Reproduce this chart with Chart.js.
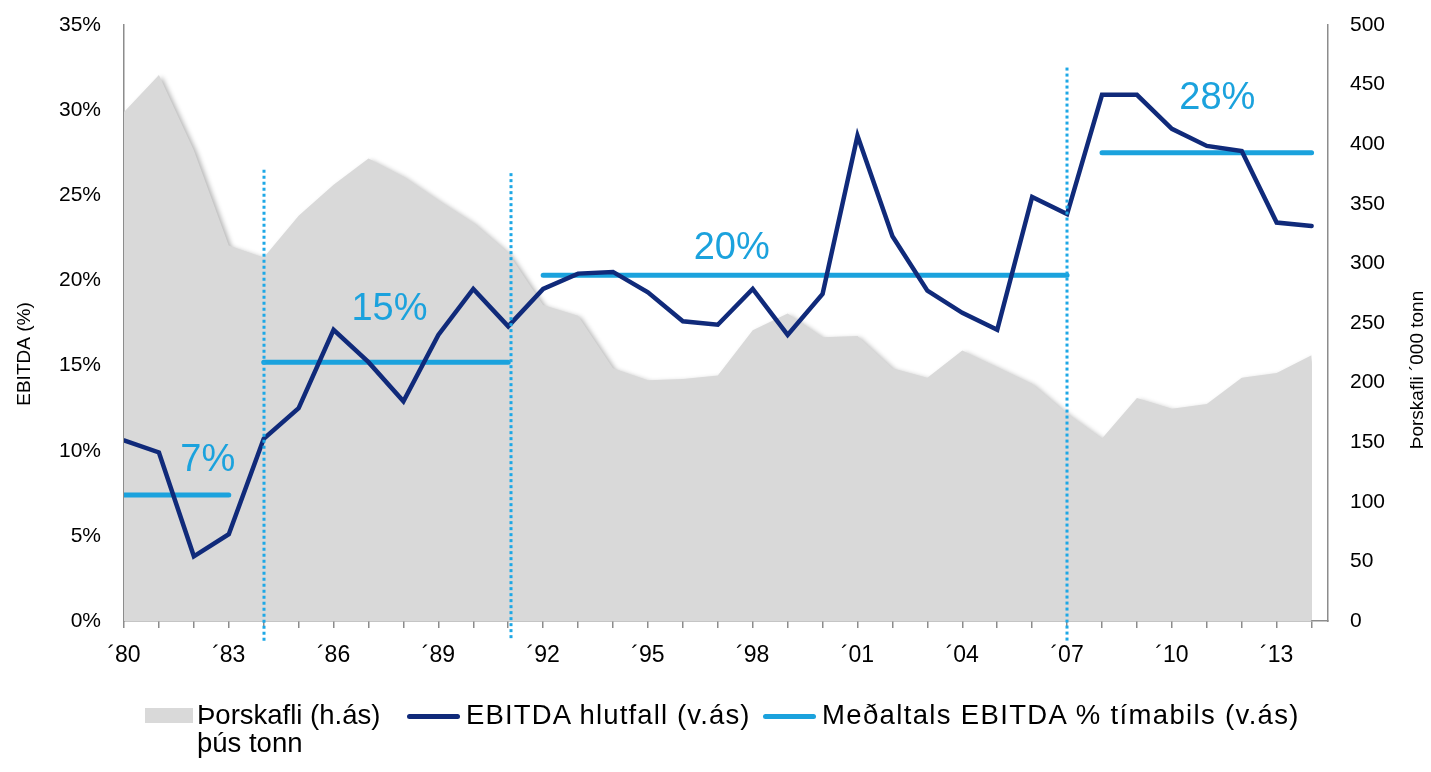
<!DOCTYPE html>
<html>
<head>
<meta charset="utf-8">
<script src="https://cdn.jsdelivr.net/npm/chart.js@4/dist/chart.umd.min.js"></script>
<style>
  html, body { margin: 0; padding: 0; background: #fff; }
  #wrap { position: relative; width: 1431px; height: 772px; }
  .item {
    position: absolute; top: 701px; display: flex; align-items: flex-start;
    font-family: "Liberation Sans", Arial, sans-serif; font-size: 27.5px; color: #000;
    white-space: nowrap;
  }
  .swatch-area { width: 48px; height: 15px; background: #d9d9d9; margin-top: 7px; margin-right: 4px; }
  .swatch-line { width: 53px; height: 5px; border-radius: 3px; margin-top: 13px; margin-right: 6px; }
  .txt { line-height: 28px; }
</style>
</head>
<body>
<div id="wrap">
  <canvas id="chart" width="1431" height="772"></canvas>
  <div class="item" style="left:145px;letter-spacing:0px"><div class="swatch-area"></div><div class="txt">Þorskafli (h.ás)<br>þús tonn</div></div>
  <div class="item" style="left:407px;letter-spacing:1.15px"><div class="swatch-line" style="background:#102a7a"></div><div class="txt">EBITDA hlutfall (v.ás)</div></div>
  <div class="item" style="left:763px;letter-spacing:1.35px"><div class="swatch-line" style="background:#1ba2dd"></div><div class="txt">Meðaltals EBITDA % tímabils (v.ás)</div></div>
</div>
<script>
const years = [1980, 1981, 1982, 1983, 1984, 1985, 1986, 1987, 1988, 1989,
               1990, 1991, 1992, 1993, 1994, 1995, 1996, 1997, 1998, 1999,
               2000, 2001, 2002, 2003, 2004, 2005, 2006, 2007, 2008, 2009,
               2010, 2011, 2012, 2013, 2014];

// EBITDA hlutfall (%)
const ebitda = [10.6, 9.9, 3.8, 5.1, 10.7, 12.5, 17.1, 15.2, 12.9, 16.8,
                19.5, 17.3, 19.5, 20.4, 20.5, 19.3, 17.6, 17.4, 19.5, 16.8,
                19.2, 28.5, 22.6, 19.4, 18.1, 17.1, 24.9, 23.9, 30.9, 30.9,
                28.9, 27.9, 27.6, 23.4, 23.2];

// Þorskafli, þús tonn
const codCatch = [427, 458, 395, 315, 305, 340, 366, 388, 373, 353,
                  334, 309, 265, 256, 212, 202, 203, 206, 244, 258,
                  238, 239, 212, 204, 227, 213, 199, 174, 153, 187,
                  178, 182, 204, 208, 223];

// Meðaltal EBITDA fyrir hvert tímabil
const avgStart = [1980, 1984, 1992, 2008];
const avgEnd = [1983, 1991, 2007, 2014];
const avgValue = [7.4, 15.2, 20.3, 27.5];
const avgLabels = ['7%', '15%', '20%', '28%'];

// skil milli tímabila
const dividers = [1984, 1991, 2007];

const leftTicks = [0, 5, 10, 15, 20, 25, 30, 35];
const rightTicks = [0, 50, 100, 150, 200, 250, 300, 350, 400, 450, 500];

const NAVY = '#102a7a';
const LIGHT = '#1ba2dd';
const FONT = '"Liberation Sans", Arial, sans-serif';

const avgPoints = [];
avgStart.forEach((s, i) => {
    avgPoints.push({ x: s, y: avgValue[i] });
    avgPoints.push({ x: avgEnd[i], y: avgValue[i] });
    avgPoints.push({ x: avgEnd[i] + 0.5, y: null });
});

const extras = {
    id: 'extras',
    beforeDatasetsDraw(chart) {
        // skuggi undir gráa svæðinu
        const ctx = chart.ctx;
        ctx.save();
        ctx.shadowColor = 'rgba(0,0,0,0.30)';
        ctx.shadowBlur = 5;
        ctx.shadowOffsetX = 3;
        ctx.shadowOffsetY = 2;
    },
    afterDatasetDraw(chart, args) {
        if (args.index === 0) chart.ctx.restore();
    },
    afterDatasetsDraw(chart) {
        const ctx = chart.ctx;
        const x = chart.scales.x, y = chart.scales.y;
        const tops = [26.5, 26.3, 32.5];
        ctx.save();
        ctx.strokeStyle = '#1ea8e6';
        ctx.lineWidth = 3;
        ctx.setLineDash([3, 3]);
        dividers.forEach((d, i) => {
            const px = Math.round(x.getPixelForValue(d)) + (i === 1 ? 3 : 0);
            ctx.beginPath();
            ctx.moveTo(px, y.getPixelForValue(tops[i]));
            ctx.lineTo(px, chart.chartArea.bottom + 20);
            ctx.stroke();
        });
        ctx.setLineDash([]);
        const pos = [[1982.4, 9.4], [1987.6, 18.3], [1997.4, 21.9], [2011.3, 30.7]];
        ctx.fillStyle = LIGHT;
        ctx.font = '38px ' + FONT;
        ctx.textAlign = 'center';
        ctx.textBaseline = 'middle';
        avgLabels.forEach((t, i) => {
            ctx.fillText(t, x.getPixelForValue(pos[i][0]), y.getPixelForValue(pos[i][1]));
        });
        ctx.restore();
    },
    afterDraw(chart) {
        const ctx = chart.ctx;
        const title = (text, cx, cy) => {
            ctx.save();
            ctx.fillStyle = '#000';
            ctx.font = '19px ' + FONT;
            ctx.textAlign = 'center';
            ctx.textBaseline = 'middle';
            ctx.translate(cx, cy);
            ctx.rotate(-Math.PI / 2);
            ctx.fillText(text, 0, 0);
            ctx.restore();
        };
        title('EBITDA (%)', 25, 354);
        title('Þorskafli ´000 tonn', 1418, 370);
    }
};

new Chart(document.getElementById('chart'), {
    type: 'line',
    data: {
        datasets: [
            {
                label: 'Þorskafli (h.ás) þús tonn',
                data: years.map((yr, i) => ({ x: yr, y: codCatch[i] })),
                yAxisID: 'y1',
                fill: 'origin',
                backgroundColor: '#d9d9d9',
                borderWidth: 0,
                pointRadius: 0,
                tension: 0,
                order: 3
            },
            {
                label: 'Meðaltals EBITDA % tímabils (v.ás)',
                data: avgPoints,
                yAxisID: 'y',
                borderColor: LIGHT,
                borderWidth: 5,
                borderCapStyle: 'round',
                pointRadius: 0,
                spanGaps: false,
                fill: false,
                order: 2
            },
            {
                label: 'EBITDA hlutfall (v.ás)',
                data: years.map((yr, i) => ({ x: yr, y: ebitda[i] })),
                yAxisID: 'y',
                borderColor: NAVY,
                borderWidth: 4.5,
                borderCapStyle: 'round',
                pointRadius: 0,
                tension: 0,
                fill: false,
                order: 1
            }
        ]
    },
    options: {
        responsive: false,
        animation: false,
        layout: { padding: { top: 25, left: 0, right: 0, bottom: 0 } },
        plugins: {
            legend: { display: false },
            tooltip: { enabled: false }
        },
        scales: {
            x: {
                type: 'linear',
                min: 1980,
                max: 2014.47,
                afterFit(s) { s.height = 151; },
                afterBuildTicks(s) {
                    s.ticks = years.map(v => ({ value: v }));
                },
                grid: {
                    drawOnChartArea: false,
                    drawTicks: true,
                    tickLength: 7,
                    color: '#8c8c8c',
                    lineWidth: 1.5
                },
                border: { color: '#8c8c8c', width: 1.5 },
                ticks: {
                    autoSkip: false,
                    maxRotation: 0,
                    padding: 14,
                    color: '#000',
                    font: { family: FONT, size: 23 },
                    callback: v => ((v - 1980) % 3 === 0 ? '´' + String(v).slice(2) : '')
                }
            },
            y: {
                position: 'left',
                min: 0,
                max: 35,
                afterFit(s) { s.width = 124; s.paddingTop = 0; s.paddingBottom = 0; },
                afterBuildTicks(s) {
                    s.ticks = leftTicks.map(v => ({ value: v }));
                },
                grid: { display: false, drawTicks: false },
                border: { color: '#8c8c8c', width: 1.5 },
                ticks: {
                    padding: 23,
                    color: '#000',
                    font: { family: FONT, size: 21 },
                    callback: v => v + '%'
                }
            },
            y1: {
                position: 'right',
                min: 0,
                max: 500,
                afterFit(s) { s.width = 103; s.paddingTop = 0; s.paddingBottom = 0; },
                afterBuildTicks(s) {
                    s.ticks = rightTicks.map(v => ({ value: v }));
                },
                grid: { display: false, drawTicks: false },
                border: { color: '#8c8c8c', width: 1.5 },
                ticks: {
                    padding: 22,
                    color: '#000',
                    font: { family: FONT, size: 21 },
                    callback: v => String(v)
                }
            }
        }
    },
    plugins: [extras]
});
</script>
</body>
</html>
